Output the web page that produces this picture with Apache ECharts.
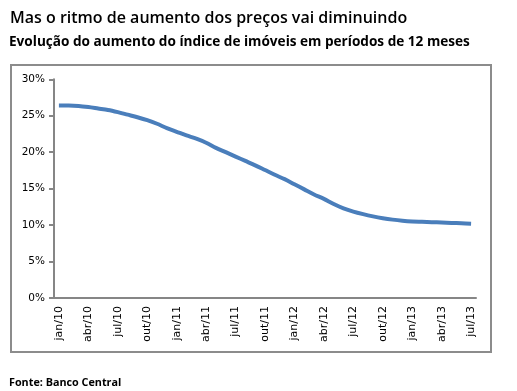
<!DOCTYPE html>
<html><head><meta charset="utf-8">
<script src="https://cdn.jsdelivr.net/npm/echarts@6/dist/echarts.min.js"></script>
<style>html,body{margin:0;padding:0;background:#fff}#c{width:517px;height:391px}</style>
</head><body><div id="c"></div>
<script>
const months = ['jan','fev','mar','abr','mai','jun','jul','ago','set','out','nov','dez'];
const years = ['10','11','12','13'];
const categories = [];
for (const y of years) for (const m of months) categories.push(m + '/' + y);
categories.length = 43; // jan/10 .. jul/13
const values = [26.4,26.4,26.35,26.2,26.0,25.8,25.5,25.15,24.8,24.4,23.9,23.3,
  22.8,22.3,21.85,21.3,20.6,20.0,19.4,18.8,18.2,17.55,16.9,16.3,
  15.6,14.9,14.2,13.6,12.9,12.3,11.85,11.5,11.2,10.95,10.75,10.6,
  10.5,10.45,10.4,10.35,10.3,10.25,10.2];
const yTicks = [0,5,10,15,20,25,30];

const chart = echarts.init(document.getElementById('c'), null, {renderer:'canvas'});
chart.setOption({
  animation:false,
  backgroundColor:'#fff',
  title:[
    {text:'Mas o ritmo de aumento dos preços vai diminuindo', left:5, top:5,
     textStyle:{fontFamily:'Open Sans', fontSize:16, fontWeight:600, color:'#000'}},
    {text:'Evolução do aumento do índice de imóveis em períodos de 12 meses', left:4, top:30,
     textStyle:{fontFamily:'Open Sans', fontSize:13.6, fontWeight:'bold', color:'#000'}},
    {text:'Fonte: Banco Central', left:4, top:372,
     textStyle:{fontFamily:'Open Sans', fontSize:10.8, fontWeight:'bold', color:'#000'}}
  ],
  graphic:[{type:'rect', shape:{x:11, y:65, width:480, height:287},
    style:{fill:'none', stroke:'#8c8c8c', lineWidth:2}, silent:true}],
  grid:{left:54, right:41, top:79.3, bottom:93},
  xAxis:{type:'category', data:categories, boundaryGap:true,
    axisLine:{lineStyle:{color:'#868686', width:2}},
    axisTick:{interval:2, length:4, lineStyle:{color:'#868686', width:2}},
    axisLabel:{interval:2, rotate:90, margin:8, fontFamily:'DejaVu Sans', fontSize:11, color:'#000'}},
  yAxis:{type:'value', min:yTicks[0], max:yTicks[yTicks.length-1], interval:5,
    splitLine:{show:false},
    axisLine:{show:true, lineStyle:{color:'#868686', width:2}},
    axisTick:{show:true, length:5, lineStyle:{color:'#868686', width:2}},
    axisLabel:{formatter:v=>v+'%', margin:9, fontFamily:'DejaVu Sans', fontSize:10.5, color:'#000'}},
  series:[{type:'line', data:values, showSymbol:false, smooth:0.3,
    lineStyle:{color:'#4a7ebb', width:4}}]
});
</script></body></html>
